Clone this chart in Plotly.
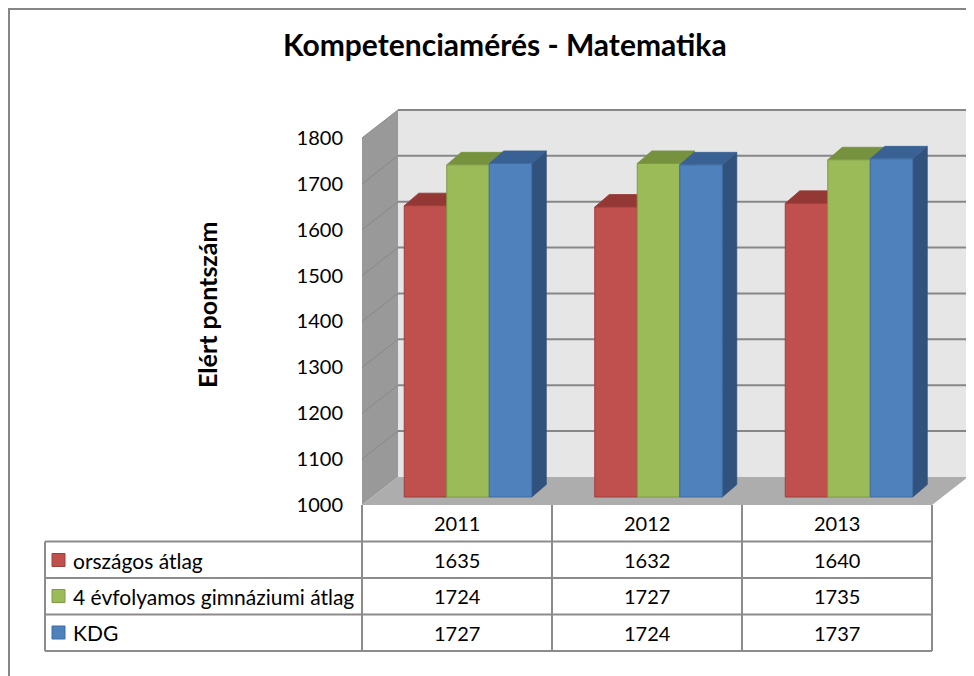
import plotly.graph_objects as go

# ---------------- data ----------------
years = ["2011", "2012", "2013"]
series_names = ["országos átlag", "4 évfolyamos gimnáziumi átlag", "KDG"]
orszagos_atlag = [1635, 1632, 1640]
gimnaziumi_atlag = [1724, 1727, 1735]
kdg = [1727, 1724, 1737]
y_ticks = [1000, 1100, 1200, 1300, 1400, 1500, 1600, 1700, 1800]

series_values = [orszagos_atlag, gimnaziumi_atlag, kdg]
front_colors = ["#C0504D", "#9BBB59", "#4F81BD"]
top_colors = ["#943836", "#76923E", "#3A6193"]
side_colors = ["#8A3331", "#6B8637", "#30527C"]
edge_colors = ["#9E3F3C", "#7E9A47", "#3E6CA3"]

FONT = "Lato"
BASE = y_ticks[0]
TOP = y_ticks[-1]

# ---------------- geometry (screen pixels; page has an 8px body margin) ----------------
W, H = 974, 676
OFF = 8
PL, PR, PT, PB = 362, 975, 100, 510      # plot area in screen pixels
GROUP_PX = 190.5                          # spacing between year groups
GROUP0_PX = 468                           # centre of first group
S = 0.4588                                # px per score unit


def xd(p):
    return (p - GROUP0_PX) / GROUP_PX


x_range = [xd(PL), xd(PR)]
y_range = [BASE - (PB - 505) / S, BASE + (505 - PT) / S]    # front plane
y2_range = [BASE - (PB - 497) / S, BASE + (497 - PT) / S]   # bar plane

WDX, WDY = 36 / GROUP_PX, 28 / S          # wall depth
BDX, BDY = 14.5 / GROUP_PX, 12.5 / S      # bar depth
BW = 42.5 / GROUP_PX                      # bar width

XL, XR = xd(362), xd(932)


def px_x(p):
    return (p - PL) / (PR - PL)


def px_y(p):
    return (PB - p) / (PB - PT)


fig = go.Figure()

# dummy trace to anchor front-plane axis
fig.add_trace(go.Scatter(x=[None], y=[None], xaxis="x", yaxis="y",
                         showlegend=False, hoverinfo="skip"))

# 3D faces of bars
for s, vals in enumerate(series_values):
    side_x, side_y, top_x, top_y = [], [], [], []
    for i, v in enumerate(vals):
        xc = i + (s - 1) * BW
        x0, x1 = xc - BW / 2, xc + BW / 2
        side_x += [x1, x1, x1 + BDX, x1 + BDX, x1, None]
        side_y += [BASE, v, v + BDY, BASE + BDY, BASE, None]
        top_x += [x0, x1, x1 + BDX, x0 + BDX, x0, None]
        top_y += [v, v, v + BDY, v + BDY, v, None]
    fig.add_trace(go.Scatter(x=side_x, y=side_y, xaxis="x", yaxis="y2",
                             mode="lines", fill="toself", fillcolor=side_colors[s],
                             line=dict(color=side_colors[s], width=0.8),
                             showlegend=False, hoverinfo="skip", zorder=0))
    fig.add_trace(go.Scatter(x=top_x, y=top_y, xaxis="x", yaxis="y2",
                             mode="lines", fill="toself", fillcolor=top_colors[s],
                             line=dict(color=top_colors[s], width=0.8),
                             showlegend=False, hoverinfo="skip", zorder=0))

# front faces of bars
for s, vals in enumerate(series_values):
    fig.add_trace(go.Bar(
        x=[i + (s - 1) * BW for i in range(len(years))],
        y=[v - BASE for v in vals], base=BASE, width=BW,
        xaxis="x", yaxis="y2", name=series_names[s],
        marker=dict(color=front_colors[s], line=dict(color=edge_colors[s], width=1)),
        customdata=[[yr, v] for yr, v in zip(years, vals)],
        hovertemplate="%{customdata[0]}: %{customdata[1]}<extra>" + series_names[s] + "</extra>",
        showlegend=False, zorder=1))

shapes = []
# back wall
shapes.append(dict(type="path", xref="x", yref="y", layer="below",
                   path=f"M {XL+WDX},{BASE+WDY} L {XR+WDX},{BASE+WDY} L {XR+WDX},{TOP+WDY} L {XL+WDX},{TOP+WDY} Z",
                   fillcolor="#E6E6E6", line=dict(width=0)))
# left wall
shapes.append(dict(type="path", xref="x", yref="y", layer="below",
                   path=f"M {XL},{BASE} L {XL+WDX},{BASE+WDY} L {XL+WDX},{TOP+WDY} L {XL},{TOP} Z",
                   fillcolor="#999999", line=dict(width=0)))
# floor
shapes.append(dict(type="path", xref="x", yref="y", layer="below",
                   path=f"M {XL},{BASE} L {XR},{BASE} L {XR+WDX},{BASE+WDY} L {XL+WDX},{BASE+WDY} Z",
                   fillcolor="#ADADAD", line=dict(width=0)))
# gridlines
for v in y_ticks[1:]:
    shapes.append(dict(type="line", xref="x", yref="y", layer="below",
                       x0=XL + WDX, x1=XR + WDX, y0=v + WDY, y1=v + WDY,
                       line=dict(color="#878787", width=2)))
    shapes.append(dict(type="line", xref="x", yref="y", layer="below",
                       x0=XL, x1=XL + WDX, y0=v, y1=v + WDY,
                       line=dict(color="#888888", width=1)))

# data table lines
LINE = dict(color="#8C8C8C", width=2)
row_lines = [541.5, 578, 614.5, 651]
col_lines = [362, 552, 742, 932]
for yy in row_lines:
    shapes.append(dict(type="line", xref="paper", yref="paper",
                       x0=px_x(45), x1=px_x(932), y0=px_y(yy), y1=px_y(yy), line=LINE))
for xx in col_lines:
    shapes.append(dict(type="line", xref="paper", yref="paper",
                       x0=px_x(xx), x1=px_x(xx), y0=px_y(505), y1=px_y(651), line=LINE))
shapes.append(dict(type="line", xref="paper", yref="paper",
                   x0=px_x(45), x1=px_x(45), y0=px_y(541.5), y1=px_y(651), line=LINE))

# legend keys
row_centers = [560, 596, 632.5]
for s in range(3):
    cy = row_centers[s]
    shapes.append(dict(type="rect", xref="paper", yref="paper",
                       x0=px_x(52), x1=px_x(65), y0=px_y(cy - 6.5), y1=px_y(cy + 6.5),
                       fillcolor=front_colors[s], line=dict(color=edge_colors[s], width=1)))

# outer frame
shapes.append(dict(type="rect", xref="paper", yref="paper",
                   x0=px_x(9), x1=px_x(1000), y0=px_y(9), y1=px_y(700),
                   line=dict(color="#868686", width=2), fillcolor="rgba(0,0,0,0)"))

annotations = []
col_centers = [457, 647, 837]
for j, yr in enumerate(years):
    annotations.append(dict(x=px_x(col_centers[j]), y=px_y(523), xref="paper", yref="paper",
                            text=yr, showarrow=False, xanchor="center", yanchor="middle",
                            font=dict(family=FONT, size=20, color="black")))
for s, vals in enumerate(series_values):
    annotations.append(dict(x=px_x(71), y=px_y(row_centers[s]), xref="paper", yref="paper",
                            text=series_names[s], showarrow=False, xanchor="left", yanchor="middle",
                            font=dict(family=FONT, size=21, color="black")))
    for j, v in enumerate(vals):
        annotations.append(dict(x=px_x(col_centers[j]), y=px_y(row_centers[s]),
                                xref="paper", yref="paper", text=str(v), showarrow=False,
                                xanchor="center", yanchor="middle",
                                font=dict(family=FONT, size=20, color="black")))

annotations.append(dict(x=px_x(505), y=px_y(44), xref="paper", yref="paper",
                        text="<b>Kompetenciamérés - Matematika</b>", showarrow=False,
                        xanchor="center", yanchor="middle",
                        font=dict(family=FONT, size=30, color="black")))
annotations.append(dict(x=px_x(207), y=px_y(305), xref="paper", yref="paper",
                        text="<b>Elért pontszám</b>", showarrow=False, textangle=-90,
                        xanchor="center", yanchor="middle",
                        font=dict(family=FONT, size=25, color="black")))

fig.update_layout(
    width=W, height=H,
    margin=dict(l=PL - OFF, r=W - (PR - OFF), t=PT - OFF, b=H - (PB - OFF), pad=0),
    paper_bgcolor="white", plot_bgcolor="rgba(0,0,0,0)",
    barmode="overlay", showlegend=False,
    xaxis=dict(range=x_range, visible=False, fixedrange=True),
    yaxis=dict(range=y_range, tickvals=y_ticks, ticktext=[str(t) for t in y_ticks],
               showgrid=False, zeroline=False, showline=False, ticks="",
               ticklabelstandoff=18, fixedrange=True,
               tickfont=dict(family=FONT, size=20, color="black")),
    yaxis2=dict(range=y2_range, overlaying="y", visible=False, fixedrange=True),
    shapes=shapes, annotations=annotations,
)

fig.write_html("out.html")
